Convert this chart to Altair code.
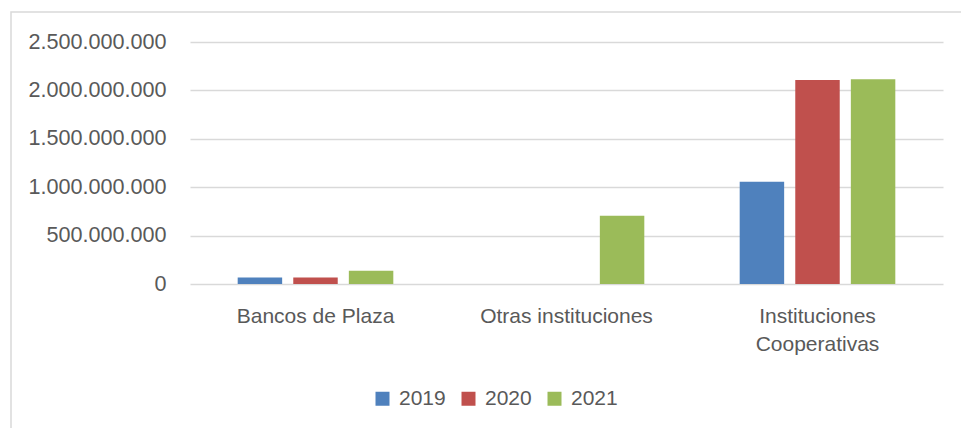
import altair as alt
import pandas as pd

categories = ["Bancos de Plaza", "Otras instituciones", "Instituciones Cooperativas"]
years = ["2019", "2020", "2021"]
values_2019 = [68000000, 0, 1057000000]
values_2020 = [68000000, 0, 2107000000]
values_2021 = [138000000, 705000000, 2114000000]
y_ticks = [0, 500000000, 1000000000, 1500000000, 2000000000, 2500000000]
colors = ["#4F81BD", "#C0504D", "#9BBB59"]

rows = []
for yr, vals in zip(years, [values_2019, values_2020, values_2021]):
    for c, v in zip(categories, vals):
        rows.append({"categoria": c, "anio": yr, "valor": v})
df = pd.DataFrame(rows)

FONT = "Liberation Sans"
TXT = "#595959"

bars = alt.Chart(df).mark_bar().encode(
    x=alt.X("categoria:N", sort=categories, title=None,
            scale=alt.Scale(paddingInner=0.38, paddingOuter=0.19),
            axis=alt.Axis(labelAngle=0, ticks=False, domain=False, labelPadding=21,
                          labelFontSize=21, labelColor=TXT, labelFont=FONT,
                          labelLineHeight=28,
                          labelExpr="datum.label == 'Instituciones Cooperativas' ? ['Instituciones', 'Cooperativas'] : datum.label")),
    xOffset=alt.XOffset("anio:N", sort=years, scale=alt.Scale(paddingInner=0.2, paddingOuter=0)),
    y=alt.Y("valor:Q", title=None,
            scale=alt.Scale(domain=[0, 2500000000], nice=False),
            axis=alt.Axis(values=y_ticks, ticks=False, domain=False, labelPadding=24,
                          labelFontSize=21.6, labelColor=TXT, labelFont=FONT,
                          gridColor="#d9d9d9", gridWidth=1.5,
                          labelExpr="replace(format(datum.value, ','), regexp(',', 'g'), '.')")),
    color=alt.Color("anio:N", sort=years, title=None,
                    scale=alt.Scale(domain=years, range=colors),
                    legend=alt.Legend(orient="none", legendX=182, legendY=346, direction="horizontal",
                                      symbolType="square", symbolSize=196, symbolStrokeWidth=0,
                                      labelFontSize=21, labelColor=TXT, labelFont=FONT,
                                      labelOffset=6, columnPadding=12, padding=0)),
)

border_df = pd.DataFrame({"k": [0]})
border = alt.Chart(border_df).mark_rect(filled=False, stroke="#d9d9d9", strokeWidth=1.5).encode(
    x=alt.value(-179), x2=alt.value(790), y=alt.value(-30), y2=alt.value(400)
)

chart = alt.layer(border, bars).properties(
    width=753, height=242,
    autosize=alt.AutoSizeParams(type="none"),
    padding={"left": 190, "top": 42, "right": 18, "bottom": 144},
    background="white",
).configure_view(stroke=None)

chart.save("out.html", embed_options={"renderer": "svg", "actions": False})
